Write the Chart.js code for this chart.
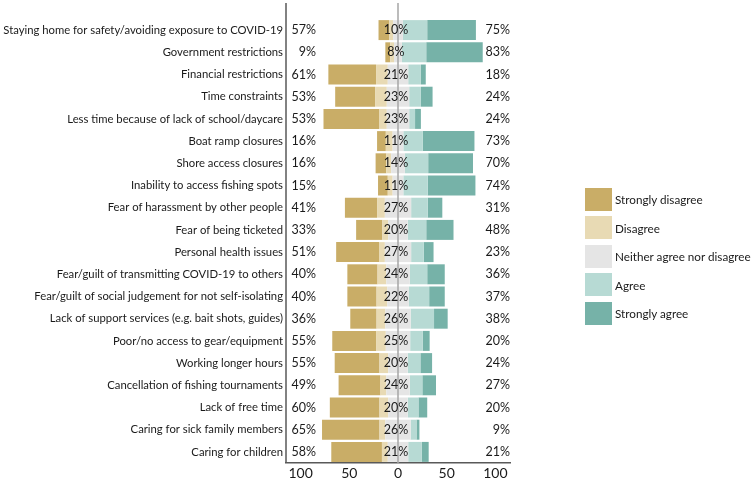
<!DOCTYPE html>
<html>
<head>
<meta charset="utf-8">
<script src="https://cdn.jsdelivr.net/npm/chart.js@4.4.1/dist/chart.umd.min.js"></script>
<style>
  html, body { margin: 0; padding: 0; background: #fff; }
  #wrap { position: relative; width: 752px; height: 481px; }
  #legenda { position: absolute; left: 585px; top: 185px; font-family: Lato, sans-serif; font-size: 11.7px; color: #1a1a1a; white-space: nowrap; }
  .item { display: flex; align-items: center; height: 28.5px; }
  .caixa { width: 27px; height: 23px; margin-right: 3px; flex: none; }
</style>
</head>
<body>
<div id="wrap">
  <canvas id="likertChart" width="752" height="481"></canvas>
  <div id="legenda"></div>
</div>
<script>
const categorias = [
    "Staying home for safety/avoiding exposure to COVID-19",
    "Government restrictions",
    "Financial restrictions",
    "Time constraints",
    "Less time because of lack of school/daycare",
    "Boat ramp closures",
    "Shore access closures",
    "Inability to access fishing spots",
    "Fear of harassment by other people",
    "Fear of being ticketed",
    "Personal health issues",
    "Fear/guilt of transmitting COVID-19 to others",
    "Fear/guilt of social judgement for not self-isolating",
    "Lack of support services (e.g. bait shots, guides)",
    "Poor/no access to gear/equipment",
    "Working longer hours",
    "Cancellation of fishing tournaments",
    "Lack of free time",
    "Caring for sick family members",
    "Caring for children"
]

// valores (%) por resposta
const stronglyDisagree = [11, 5, 49, 41, 57, 9, 11, 10, 33, 27, 44, 31, 30, 27, 45, 46, 43, 51, 59, 52]
const disagree         = [4, 4, 12, 12, 8, 7, 5, 5, 8, 6, 6, 9, 11, 9, 10, 9, 6, 9, 6, 6]
const neither          = [10, 8, 21, 23, 23, 11, 14, 11, 27, 20, 27, 24, 22, 26, 25, 20, 24, 20, 26, 21]
const agree            = [25, 25, 13, 12, 6, 20, 24, 25, 17, 19, 13, 18, 21, 24, 13, 13, 13, 11, 6, 14]
const stronglyAgree    = [50, 58, 5, 12, 6, 53, 46, 49, 15, 28, 10, 18, 16, 14, 7, 12, 14, 9, 3, 7]

// textos de porcentagem mostrados no grafico
const pctDiscorda = ["57%", "9%", "61%", "53%", "53%", "16%", "16%", "15%", "41%", "33%", "51%", "40%", "40%", "36%", "55%", "55%", "49%", "60%", "65%", "58%"]
const pctNeutro   = ["10%", "8%", "21%", "23%", "23%", "11%", "14%", "11%", "27%", "20%", "27%", "24%", "22%", "26%", "25%", "20%", "24%", "20%", "26%", "21%"]
const pctConcorda = ["75%", "83%", "18%", "24%", "24%", "73%", "70%", "74%", "31%", "48%", "23%", "36%", "37%", "38%", "20%", "24%", "27%", "20%", "9%", "21%"]

const xTicks = [-100, -50, 0, 50, 100]

const nomes = ["Strongly disagree", "Disagree", "Neither agree nor disagree", "Agree", "Strongly agree"]
const cores = ['#C9AD67', '#E8DAB4', '#E5E5E5', '#B7DAD4', '#76B2A8']

// ajusta o tamanho da fonte para o rotulo mais longo caber em ~281px
const medidor = document.createElement('canvas').getContext('2d');
medidor.font = '12px Lato';
const maiorLargura = Math.max(...categorias.map(c => medidor.measureText(c).width));
const tamFonte = Math.min(12.5, 12 * 280 / maiorLargura);

var likertData = {
    labels: categorias,
    datasets: [
        { label: nomes[2], data: neither.map(v => -v / 2), backgroundColor: cores[2] },
        { label: nomes[2], data: neither.map(v => v / 2), backgroundColor: cores[2] },
        { label: nomes[1], data: disagree.map(v => -v), backgroundColor: cores[1] },
        { label: nomes[3], data: agree, backgroundColor: cores[3] },
        { label: nomes[0], data: stronglyDisagree.map(v => -v), backgroundColor: cores[0] },
        { label: nomes[4], data: stronglyAgree, backgroundColor: cores[4] }
    ]
};

// linhas e porcentagens por cima das barras
const likertLabels = {
    id: 'likertLabels',
    afterDatasetsDraw(chart) {
        const { ctx, chartArea, scales: { x, y } } = chart;
        const x0 = x.getPixelForValue(0);
        ctx.save();
        ctx.lineWidth = 1.5;
        ctx.strokeStyle = '#a6a6a6';
        ctx.beginPath(); ctx.moveTo(x0, 3); ctx.lineTo(x0, chartArea.bottom); ctx.stroke();
        ctx.strokeStyle = '#595959';
        ctx.beginPath(); ctx.moveTo(chartArea.left, 3); ctx.lineTo(chartArea.left, chartArea.bottom); ctx.stroke();

        ctx.font = '12.5px Lato';
        ctx.fillStyle = '#1a1a1a';
        ctx.textBaseline = 'middle';
        categorias.forEach((c, i) => {
            const yy = y.getPixelForValue(i);
            ctx.textAlign = 'right';
            ctx.fillText(pctDiscorda[i], chartArea.left + 30, yy);
            ctx.textAlign = 'center';
            ctx.fillText(pctNeutro[i], x0 - 2, yy);
            ctx.textAlign = 'right';
            ctx.fillText(pctConcorda[i], chartArea.right, yy);
        });
        ctx.restore();
    }
};

var likertCtx = document.getElementById('likertChart').getContext('2d');
const likertChart = new Chart(likertCtx, {
    type: 'bar',
    data: likertData,
    plugins: [likertLabels],
    options: {
        responsive: false,
        animation: false,
        indexAxis: 'y',
        barPercentage: 0.9,
        categoryPercentage: 1.0,
        layout: { padding: { top: 19, right: 242, left: 0, bottom: 0 } },
        plugins: {
            legend: { display: false },
            tooltip: { enabled: false }
        },
        scales: {
            x: {
                stacked: true,
                min: -115,
                max: 115,
                afterBuildTicks: (scale) => { scale.ticks = xTicks.map(v => ({ value: v })); },
                afterFit: (scale) => { scale.height = 18; },
                ticks: {
                    callback: (v) => Math.abs(v),
                    color: '#1a1a1a',
                    font: { family: 'Lato', size: 14 },
                    padding: 2,
                    maxRotation: 0
                },
                grid: { display: false, drawTicks: false },
                border: { display: true, color: '#595959', width: 1.5 }
            },
            y: {
                stacked: true,
                afterFit: (scale) => { scale.width = 286; },
                ticks: {
                    color: '#1a1a1a',
                    font: { family: 'Lato', size: tamFonte },
                    padding: 3,
                    autoSkip: false
                },
                grid: { display: false, drawTicks: false },
                border: { display: false }
            }
        }
    }
});

// legenda
const legenda = document.getElementById('legenda');
nomes.forEach((n, i) => {
    const item = document.createElement('div');
    item.className = 'item';
    item.innerHTML = '<div class="caixa" style="background:' + cores[i] + '"></div><span>' + n + '</span>';
    legenda.appendChild(item);
});
</script>
</body>
</html>
